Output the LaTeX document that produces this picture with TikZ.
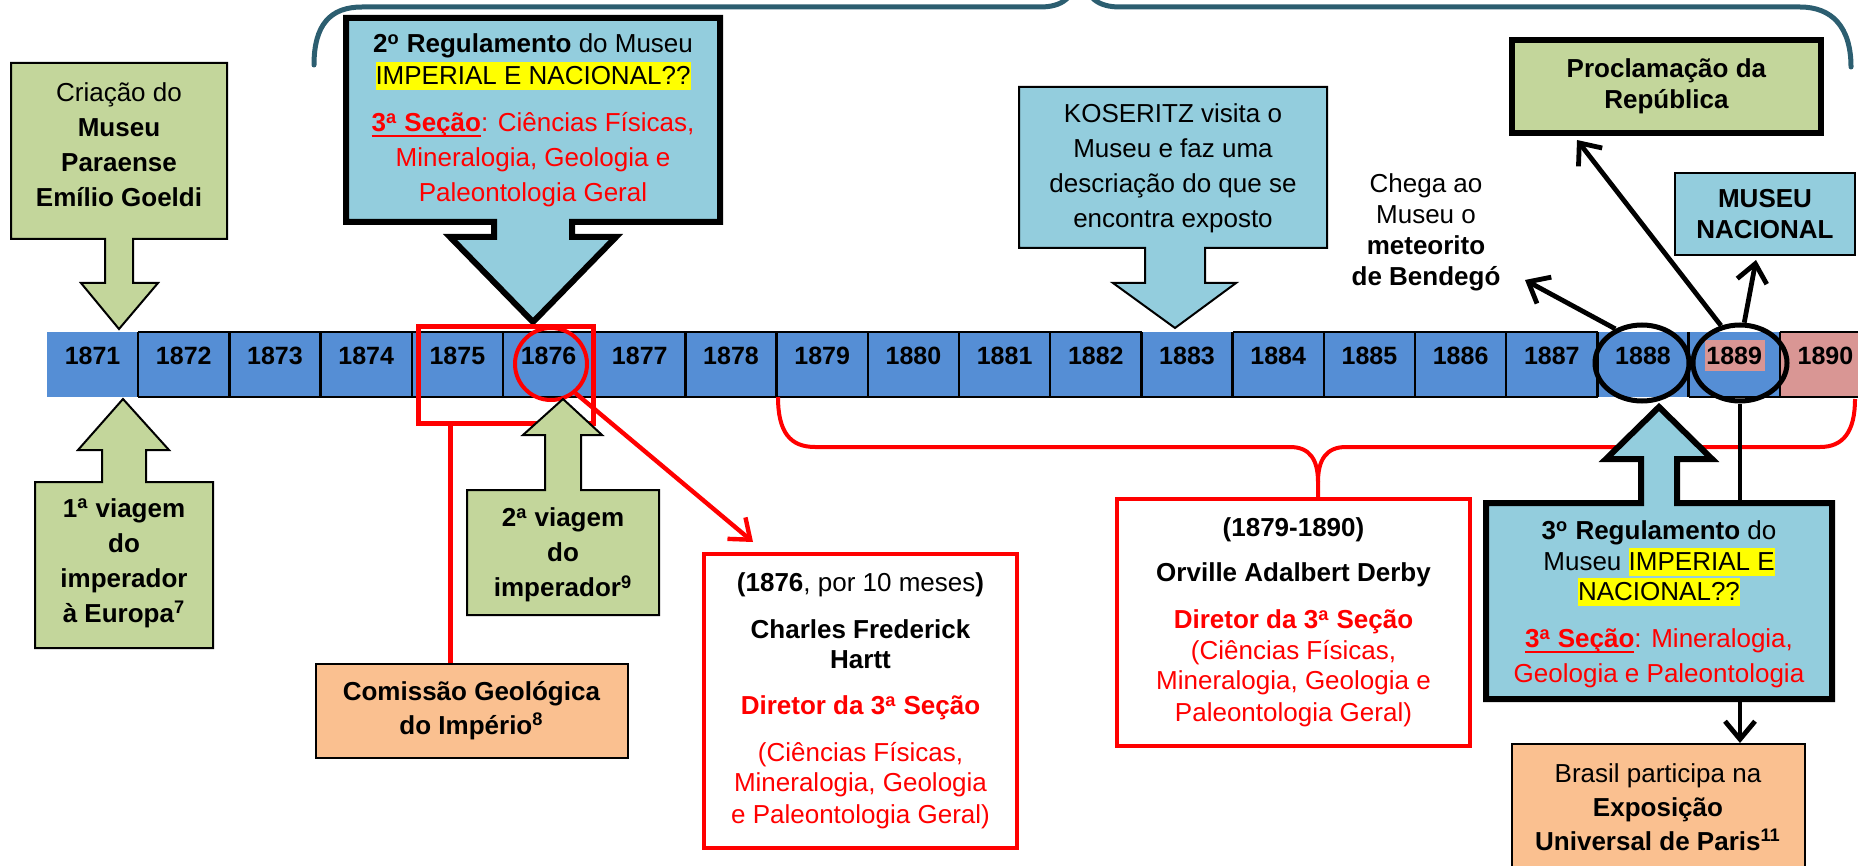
\documentclass[tikz,border=0pt]{standalone}
\usepackage{fontspec}
\setmainfont{Liberation Sans}
\usetikzlibrary{shapes.geometric,arrows.meta}

\definecolor{barblue}{RGB}{85,142,213}
\definecolor{callblue}{RGB}{147,205,221}
\definecolor{callgreen}{RGB}{195,214,155}
\definecolor{callorange}{RGB}{250,192,144}
\definecolor{yearpink}{RGB}{217,150,148}
\definecolor{hlyellow}{RGB}{255,255,0}
\definecolor{braceteal}{RGB}{44,94,112}
\definecolor{tred}{RGB}{255,0,0}

% yellow text highlight
\newcommand{\hlt}[1]{{\setlength{\fboxsep}{0pt}\colorbox{hlyellow}{\vphantom{Ág}#1}}}
% thick underline
\newcommand{\redul}[1]{{\setbox0\hbox{#1}\rlap{\rule[-2.8pt]{\wd0}{1.2pt}}\box0}}
\newcommand{\ord}[1]{\textsuperscript{#1}}

\begin{document}
\begin{tikzpicture}[x=0.5pt,y=-0.5pt,
  every node/.style={font=\fontsize{13}{17.5}\selectfont},
  txt/.style={align=center, inner sep=0pt},
  tight/.style={font=\fontsize{13}{15.5}\selectfont},
  year/.style={font=\fontsize{12.5}{15}\selectfont\bfseries, inner sep=0pt},
  thinline/.style={draw=black, line width=1pt},
  thickline/.style={draw=black, line width=3pt, line join=miter},
  blkarrow/.style={draw=black, line width=2.4pt, -{Straight Barb[length=9pt,width=15pt]}},
  redarrow/.style={draw=tred, line width=2.2pt, -{Straight Barb[length=9pt,width=14pt]}},
  redframe/.style={draw=tred, line width=2pt, inner sep=0pt, align=center}
]
\useasboundingbox (0,0) rectangle (1858,866);

% ---------- timeline bar ----------
\fill[barblue] (47,332) rectangle (1780,397);
\fill[yearpink] (1780,332) rectangle (1870,397);
\fill[yearpink] (1705,340) rectangle (1765,371);
\begin{scope}[line width=1.2pt]
  \draw (138,332) -- (1142,332) (1233,332) -- (1598,332) (1780,332) -- (1870,332);
  \draw (138,397) -- (1598,397) (1689,397) -- (1870,397);
  \foreach \k in {1,...,19} \draw ({47+91.2*\k},332) -- ({47+91.2*\k},397);
\end{scope}
\foreach \i [evaluate=\i as \yr using int(1871+\i)] in {0,...,19}
  \node[year] (y\i) at ({92.6+91.2*\i},356) {\yr};

% ---------- top brace ----------
\draw[braceteal, line width=2.5pt, line cap=round]
  (314,65) .. controls (314,25) and (330,7) .. (362,7) -- (1040,7)
  .. controls (1062,7) and (1074,-2) .. (1078,-25);
\draw[braceteal, line width=2.5pt, line cap=round]
  (1082,-25) .. controls (1086,-2) and (1098,7) .. (1120,7) -- (1800,7)
  .. controls (1832,7) and (1851,27) .. (1851,67);

% ---------- callouts above the bar ----------
\filldraw[fill=callgreen, thinline]
  (11,63) -- (227,63) -- (227,239) -- (133,239) -- (133,283) -- (158,283)
  -- (119,329) -- (81,283) -- (105,283) -- (105,239) -- (11,239) -- cycle;
\node[txt] (criacao) at (119,144.5)
  {Criação do\\\textbf{Museu}\\\textbf{Paraense}\\\textbf{Emílio Goeldi}};

\filldraw[fill=callblue, thickline]
  (346,18) -- (720,18) -- (720,222) -- (572,222) -- (572,237) -- (616,237)
  -- (533,322) -- (450,237) -- (494,237) -- (494,222) -- (346,222) -- cycle;
\node[txt] (reg2) at (533,120.5)
  {\textbf{2\ord{o} Regulamento} do Museu\\[-1.5pt]
   \hlt{IMPERIAL E NACIONAL??}\\[6pt]
   \textcolor{tred}{\redul{\textbf{3\ord{a} Seção}}: Ciências Físicas,}\\
   \textcolor{tred}{Mineralogia, Geologia e}\\
   \textcolor{tred}{Paleontologia Geral}};

\filldraw[fill=callblue, thinline]
  (1019,87) -- (1327,87) -- (1327,248) -- (1205,248) -- (1205,283) -- (1236,283)
  -- (1175,328) -- (1113,283) -- (1145,283) -- (1145,248) -- (1019,248) -- cycle;
\node[txt] (koseritz) at (1173,168.5)
  {KOSERITZ visita o\\Museu e faz uma\\descriação do que se\\encontra exposto};

\node[txt, tight] (chega) at (1426,232)
  {Chega ao\\Museu o\\\textbf{meteorito}\\\textbf{de Bendegó}};

\node[thickline, fill=callgreen, minimum width=154.5pt, minimum height=46.5pt,
      inner sep=0pt, align=center, tight] (proc) at (1666.5,86.5)
  {\textbf{Proclamação da}\\\textbf{República}};

\node[thinline, fill=callblue, minimum width=90pt, minimum height=41pt,
      inner sep=0pt, align=center, tight] (nacional) at (1765,214.5)
  {\textbf{MUSEU}\\\textbf{NACIONAL}};

% ---------- marks on the bar ----------
\node[ellipse, draw=black, line width=2.5pt, minimum width=47pt, minimum height=38pt,
      inner sep=0pt] (e88) at (1642,363) {};
\node[ellipse, draw=black, line width=2.5pt, minimum width=47pt, minimum height=38pt,
      inner sep=0pt] (e89) at (1740,363) {};
\node[draw=tred, line width=2.5pt, minimum width=87.5pt, minimum height=48pt,
      inner sep=0pt] (sel) at (505.5,375) {};
\node[ellipse, draw=tred, line width=2pt, minimum width=36pt, minimum height=36pt,
      inner sep=0pt] (c76) at (551,364) {};

% ---------- callouts below the bar ----------
\filldraw[fill=callgreen, thinline]
  (35,482) -- (102,482) -- (102,450) -- (78,450) -- (123,399) -- (169,450)
  -- (146,450) -- (146,482) -- (213,482) -- (213,648) -- (35,648) -- cycle;
\node[txt] (viag1) at (124,563)
  {\textbf{1\ord{a} viagem}\\\textbf{do}\\\textbf{imperador}\\\textbf{à Europa\ord{7}}};

\filldraw[fill=callgreen, thinline]
  (467,490) -- (545,490) -- (545,435) -- (523,435) -- (563,399) -- (602,435)
  -- (581,435) -- (581,490) -- (659,490) -- (659,615) -- (467,615) -- cycle;
\node[txt] (viag2) at (563,555)
  {\textbf{2\ord{a} viagem}\\\textbf{do}\\\textbf{imperador\ord{9}}};

\node[thinline, fill=callorange, minimum width=156pt, minimum height=47pt,
      inner sep=0pt, align=center, font=\fontsize{13}{17}\selectfont] (comissao) at (471.5,710.5)
  {\textbf{Comissão Geológica}\\\textbf{do Império\ord{8}}};

\coordinate (selfoot) at (450,423);
\draw[tred, line width=2.5pt] (selfoot) -- (selfoot |- comissao.north);

\node[redframe, minimum width=156.5pt, minimum height=147pt, tight] (hartt) at (860.5,701)
  {\textbf{(1876}, por 10 meses\textbf{)}\\[8pt]
   \textbf{Charles Frederick}\\[-0.5pt]
   \textbf{Hartt}\\[7.5pt]
   \textcolor{tred}{\textbf{Diretor da 3\ord{a} Seção}}\\[8pt]
   \textcolor{tred}{(Ciências Físicas,}\\[-0.5pt]
   \textcolor{tred}{Mineralogia, Geologia}\\[0.5pt]
   \textcolor{tred}{e Paleontologia Geral)}};

\coordinate (harttip) at (753,542);
\draw[redarrow] (c76.-50) -- (harttip);

\node[redframe, minimum width=176.5pt, minimum height=123.5pt, tight] (derby) at (1293.5,622.5)
  {\textbf{(1879-1890)}\\[7pt]
   \textbf{Orville Adalbert Derby}\\[8pt]
   \textcolor{tred}{\textbf{Diretor da 3\ord{a} Seção}}\\
   \textcolor{tred}{(Ciências Físicas,}\\[-0.5pt]
   \textcolor{tred}{Mineralogia, Geologia e}\\[0.5pt]
   \textcolor{tred}{Paleontologia Geral)}};

% red brace over 1879-1890
\draw[tred, line width=2pt]
  (778,397) .. controls (778,432) and (790,447) .. (815,447) -- (1290,447)
  .. controls (1310,447) and (1318,460) .. (1318,482) -- (1318,497);
\draw[tred, line width=2pt]
  (1318,482) .. controls (1318,460) and (1326,447) .. (1346,447) -- (1820,447)
  .. controls (1843,447) and (1855,432) .. (1855,399);

\node[thinline, fill=callorange, minimum width=146.5pt, minimum height=77.5pt,
      inner sep=0pt] (brasilbox) at (1658.5,821.5) {};
\node[txt, font=\fontsize{13}{17}\selectfont] (brasil) at (1658,807)
  {Brasil participa na\\\textbf{Exposição}\\\textbf{Universal de Paris\ord{11}}};

\draw[blkarrow] (e89.south) -- (e89.south |- brasilbox.north);

\filldraw[fill=callblue, thickline]
  (1486,503) -- (1641,503) -- (1641,459) -- (1606,459) -- (1659,407) -- (1712,459)
  -- (1677,459) -- (1677,503) -- (1832,503) -- (1832,699) -- (1486,699) -- cycle;
\node[txt, tight] (reg3) at (1659,604.5)
  {\textbf{3\ord{o} Regulamento} do\\
   Museu \hlt{IMPERIAL E}\\[-0.5pt]
   \hlt{NACIONAL??}\\[8pt]
   \textcolor{tred}{\redul{\textbf{3\ord{a} Seção}}: Mineralogia,}\\[2pt]
   \textcolor{tred}{Geologia e Paleontologia}};

% ---------- black arrows from 1888 / 1889 ----------
\coordinate (bendtip) at (1525,280);
\coordinate (proctip) at (1577,140);
\coordinate (nactip) at (1756,260);
\draw[blkarrow] (e88.128) -- (bendtip);
\draw[blkarrow] (e89.117) -- (proctip);
\draw[blkarrow] (e89.84) -- (nactip);
\end{tikzpicture}
\end{document}
